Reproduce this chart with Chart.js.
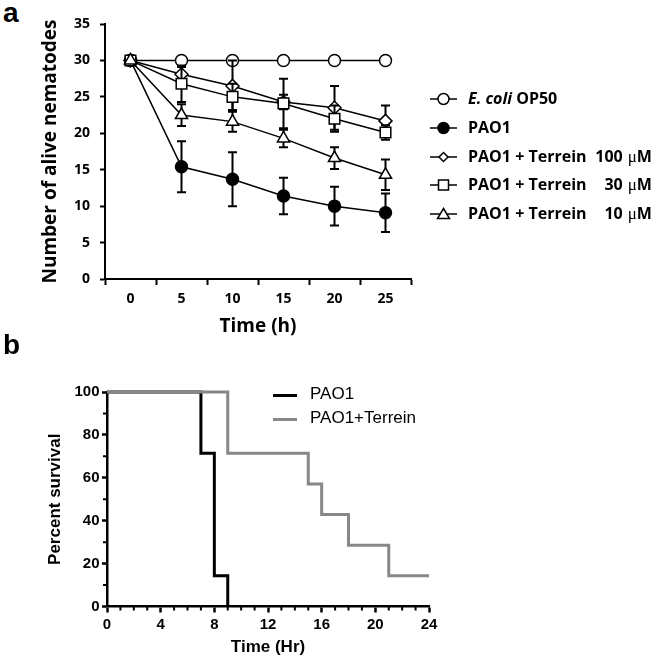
<!DOCTYPE html>
<html>
<head>
<meta charset="utf-8">
<script src="https://cdn.jsdelivr.net/npm/chart.js@4.4.1/dist/chart.umd.min.js"></script>
<style>
    body { margin: 0; background: #fff; }
    #page { position: relative; width: 666px; height: 660px; overflow: hidden; background: #fff; }
    canvas { position: absolute; left: 0; }
    .tag { position: absolute; left: 3px; font: bold 28px 'Liberation Sans', Arial, sans-serif; line-height: 28px; color: #000; }
    .rowA { position: absolute; left: 428px; height: 28px; line-height: 28px; white-space: pre; color: #000;
            font: bold 16px 'Open Sans', sans-serif; }
    .rowA svg { position: absolute; left: 0; top: 4px; }
    .rowA .txt { position: absolute; left: 40px; top: 0; }
    .rowA .num { display: inline-block; width: 32px; text-align: right; margin-right: 5px; }
    .mu { font-family: 'Liberation Serif', serif; font-weight: normal; font-size: 17px; }
    .rowB { position: absolute; left: 273px; height: 24px; line-height: 24px; white-space: nowrap;
            font: 17px 'Liberation Sans', Arial, sans-serif; color: #000; }
    .rowB .bar { position: absolute; left: 0; top: 10px; width: 24px; height: 3px; }
    .rowB .txt { position: absolute; left: 37px; top: 0; }
</style>
</head>
<body>
<div id="page">
    <div class="tag" style="top:-1px">a</div>
    <canvas id="chartA" width="430" height="341" style="top:0"></canvas>

    <div class="rowA" style="top:87px">
        <svg width="30" height="16"><line x1="2" y1="8" x2="29" y2="8" stroke="#000" stroke-width="1.5"/><circle cx="15.5" cy="8" r="5.5" fill="#fff" stroke="#000" stroke-width="1.5"/></svg>
        <span class="txt"><i>E. coli</i> OP50</span>
    </div>
    <div class="rowA" style="top:116px">
        <svg width="30" height="16"><line x1="2" y1="8" x2="29" y2="8" stroke="#000" stroke-width="1.5"/><circle cx="15.5" cy="8" r="5.5" fill="#000" stroke="#000" stroke-width="1.5"/></svg>
        <span class="txt">PAO1</span>
    </div>
    <div class="rowA" style="top:145px">
        <svg width="30" height="16"><line x1="2" y1="8" x2="29" y2="8" stroke="#000" stroke-width="1.5"/><polygon points="15.5,3.5 20,8 15.5,12.5 11,8" fill="#fff" stroke="#000" stroke-width="1.5"/></svg>
        <span class="txt">PAO1 + Terrein <span class="num">100</span><span class="mu">μ</span>M</span>
    </div>
    <div class="rowA" style="top:173px">
        <svg width="30" height="16"><line x1="2" y1="8" x2="29" y2="8" stroke="#000" stroke-width="1.5"/><rect x="10.5" y="3" width="10" height="10" fill="#fff" stroke="#000" stroke-width="1.5"/></svg>
        <span class="txt">PAO1 + Terrein <span class="num">30</span><span class="mu">μ</span>M</span>
    </div>
    <div class="rowA" style="top:202px">
        <svg width="30" height="16"><line x1="2" y1="8" x2="29" y2="8" stroke="#000" stroke-width="1.5"/><polygon points="15.5,2.5 21.5,12.5 9.5,12.5" fill="#fff" stroke="#000" stroke-width="1.5"/></svg>
        <span class="txt">PAO1 + Terrein <span class="num">10</span><span class="mu">μ</span>M</span>
    </div>

    <div class="tag" style="top:331px">b</div>
    <canvas id="chartB" width="666" height="319" style="top:341px"></canvas>

    <div class="rowB" style="top:384px"><div class="bar" style="background:#000"></div><span class="txt">PAO1</span></div>
    <div class="rowB" style="top:408px"><div class="bar" style="background:#878787"></div><span class="txt">PAO1+Terrein</span></div>
</div>

<script>
// Painel a: nematoides vivos ao longo do tempo
const timeLabels = ['0', '5', '10', '15', '20', '25'];
const ecoliVals = [30, 30, 30, 30, 30, 30];
const pao1Vals = [30, 15.4, 13.7, 11.4, 10.0, 9.1];
const pao1Err = [0, 3.5, 3.7, 2.5, 2.65, 2.65];
const ter100Vals = [30, 28.1, 26.5, 24.3, 23.5, 21.7];
const ter100Err = [0, 1.0, 3.5, 1.0, 3.0, 2.1];
const ter30Vals = [30, 26.8, 25.0, 24.1, 22.0, 20.1];
const ter30Err = [0, 2.5, 1.8, 3.4, 1.8, 1.0];
const ter10Vals = [30, 22.5, 21.6, 19.3, 16.6, 14.3];
const ter10Err = [0, 1.5, 1.4, 1.2, 1.5, 2.1];

// Painel b: curvas de sobrevivencia (Kaplan-Meier)
const pao1TimesB = [0, 7, 8, 9];
const pao1SurvB = [100, 71.4, 14.3, 0];
const terTimesB = [0, 9, 15, 16, 18, 21, 24];
const terSurvB = [100, 71.4, 57.1, 42.9, 28.6, 14.3, 14.3];

const fontA = "'Open Sans', sans-serif";
const fontB = "'Liberation Sans', Arial, sans-serif";

// barras de erro desenhadas antes de cada serie, para ficarem atras dos simbolos
const errorBars = {
    id: 'errorBars',
    beforeDatasetDraw(chart, args) {
        const ds = chart.data.datasets[args.index];
        if (!ds.errors) return;
        const ctx = chart.ctx;
        const y = chart.scales.y;
        ctx.save();
        ctx.strokeStyle = '#000';
        ctx.lineWidth = 2;
        args.meta.data.forEach((pt, i) => {
            const e = ds.errors[i];
            if (!e) return;
            const top = y.getPixelForValue(ds.data[i] + e);
            const bot = y.getPixelForValue(ds.data[i] - e);
            ctx.beginPath();
            ctx.moveTo(pt.x, top); ctx.lineTo(pt.x, bot);
            ctx.moveTo(pt.x - 4.5, top); ctx.lineTo(pt.x + 4.5, top);
            ctx.moveTo(pt.x - 4.5, bot); ctx.lineTo(pt.x + 4.5, bot);
            ctx.stroke();
        });
        ctx.restore();
    }
};

// marcas menores nos eixos do painel b
const minorTicks = {
    id: 'minorTicks',
    afterDraw(chart) {
        const { ctx, chartArea } = chart;
        const x = chart.scales.x, y = chart.scales.y;
        ctx.save();
        ctx.strokeStyle = '#000';
        ctx.lineWidth = 2;
        ctx.beginPath();
        for (let v = x.min + 1; v < x.max; v++) {
            if (v % 4 === 0) continue;
            const px = x.getPixelForValue(v);
            ctx.moveTo(px, chartArea.bottom);
            ctx.lineTo(px, chartArea.bottom + 4);
        }
        for (let v = y.min + 10; v < y.max; v += 20) {
            const py = y.getPixelForValue(v);
            ctx.moveTo(chartArea.left, py);
            ctx.lineTo(chartArea.left - 4, py);
        }
        ctx.stroke();
        ctx.restore();
    }
};

function serie(label, data, errors, style, fill, radius, order) {
    return {
        label: label,
        data: data,
        errors: errors,
        borderColor: '#000',
        borderWidth: 1.5,
        pointStyle: style,
        pointRadius: radius,
        pointBackgroundColor: fill,
        pointBorderColor: '#000',
        pointBorderWidth: 1.5,
        tension: 0,
        order: order
    };
}

function toPoints(xs, ys) {
    return xs.map((t, i) => ({ x: t, y: ys[i] }));
}

function initChartA() {
    new Chart(document.getElementById('chartA'), {
        type: 'line',
        data: {
            labels: timeLabels,
            datasets: [
                serie('E. coli OP50', ecoliVals, null, 'circle', '#fff', 6, 4),
                serie('PAO1', pao1Vals, pao1Err, 'circle', '#000', 6, 3),
                serie('PAO1 + Terrein 100 μM', ter100Vals, ter100Err, 'rectRot', '#fff', 6.5, 2),
                serie('PAO1 + Terrein 30 μM', ter30Vals, ter30Err, 'rect', '#fff', 7.5, 1),
                serie('PAO1 + Terrein 10 μM', ter10Vals, ter10Err, 'triangle', '#fff', 7, 0)
            ]
        },
        options: {
            responsive: false,
            animation: false,
            events: [],
            layout: { padding: { top: 24, right: 19, left: 0, bottom: 0 } },
            plugins: { legend: { display: false }, tooltip: { enabled: false } },
            scales: {
                x: {
                    offset: true,
                    grid: { offset: true, drawOnChartArea: false, tickLength: 6, tickWidth: 2, tickColor: '#000' },
                    border: { color: '#000', width: 2 },
                    ticks: { color: '#000', padding: 6, font: { family: fontA, size: 14, weight: 'bold' } },
                    title: {
                        display: true, text: 'Time (h)', color: '#000',
                        font: { family: fontA, size: 19, weight: 'bold' },
                        padding: { top: 0, bottom: 3 }
                    },
                    afterFit(s) { s.height = 62; }
                },
                y: {
                    min: 0,
                    max: 35,
                    grid: { drawOnChartArea: false, tickLength: 5, tickWidth: 2, tickColor: '#000' },
                    border: { color: '#000', width: 2 },
                    ticks: { stepSize: 5, color: '#000', padding: 10, font: { family: fontA, size: 14, weight: 'bold' } },
                    title: {
                        display: true, text: 'Number of alive nematodes', color: '#000',
                        font: { family: fontA, size: 19, weight: 'bold' },
                        padding: { top: 39, bottom: 0 }
                    },
                    afterFit(s) { s.width = 105; }
                }
            }
        },
        plugins: [errorBars]
    });
}

function initChartB() {
    new Chart(document.getElementById('chartB'), {
        type: 'line',
        data: {
            datasets: [
                {
                    label: 'PAO1',
                    data: toPoints(pao1TimesB, pao1SurvB),
                    borderColor: '#000',
                    borderWidth: 3,
                    stepped: 'before',
                    pointRadius: 0,
                    clip: false,
                    order: 1
                },
                {
                    label: 'PAO1+Terrein',
                    data: toPoints(terTimesB, terSurvB),
                    borderColor: '#878787',
                    borderWidth: 3,
                    stepped: 'before',
                    pointRadius: 0,
                    clip: false,
                    order: 0
                }
            ]
        },
        options: {
            responsive: false,
            animation: false,
            events: [],
            layout: { padding: { top: 51, right: 237, left: 0, bottom: 0 } },
            plugins: { legend: { display: false }, tooltip: { enabled: false } },
            scales: {
                x: {
                    type: 'linear',
                    min: 0,
                    max: 24,
                    grid: { drawOnChartArea: false, tickLength: 6, tickWidth: 2.5, tickColor: '#000' },
                    border: { color: '#000', width: 2.5 },
                    ticks: { stepSize: 4, color: '#000', padding: 3, font: { family: fontB, size: 15, weight: 'bold' } },
                    title: {
                        display: true, text: 'Time (Hr)', color: '#000',
                        font: { family: fontB, size: 17, weight: 'bold' },
                        padding: { top: 0, bottom: 2 }
                    },
                    afterFit(s) { s.height = 53.5; }
                },
                y: {
                    min: 0,
                    max: 100,
                    grid: { drawOnChartArea: false, tickLength: 5, tickWidth: 2.5, tickColor: '#000' },
                    border: { color: '#000', width: 2.5 },
                    ticks: { stepSize: 20, color: '#000', padding: 2.5, font: { family: fontB, size: 15, weight: 'bold' } },
                    title: {
                        display: true, text: 'Percent survival', color: '#000',
                        font: { family: fontB, size: 17, weight: 'bold' },
                        padding: { top: 45, bottom: 0 }
                    },
                    afterFit(s) { s.width = 107; }
                }
            }
        },
        plugins: [minorTicks]
    });
}

document.addEventListener('DOMContentLoaded', () => {
    initChartA();
    initChartB();
});
</script>
</body>
</html>
